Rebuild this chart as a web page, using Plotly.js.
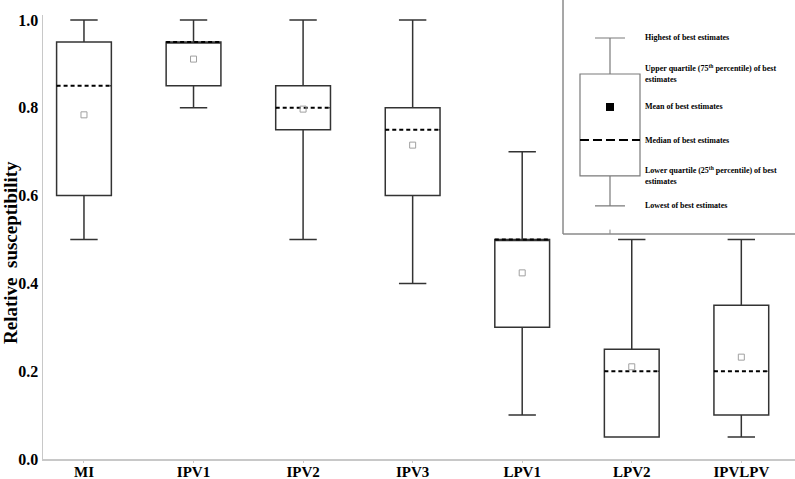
<!DOCTYPE html>
<html>
<head>
<meta charset="utf-8">
<script src="https://cdn.plot.ly/plotly-3.0.1.min.js"></script>
<style>html,body{margin:0;padding:0;background:#fff;}#chart{width:795px;height:479px;}</style>
</head>
<body>
<div id="chart"></div>
<script>
// ---- data ----
var categories = ["MI", "IPV1", "IPV2", "IPV3", "LPV1", "LPV2", "IPVLPV"];
var lowest   = [0.50, 0.80, 0.50, 0.40, 0.10, 0.05, 0.05];
var lowerQ   = [0.60, 0.85, 0.75, 0.60, 0.30, 0.05, 0.10];
var medians  = [0.85, 0.95, 0.80, 0.75, 0.50, 0.20, 0.20];
var upperQ   = [0.95, 0.95, 0.85, 0.80, 0.50, 0.25, 0.35];
var highest  = [1.00, 1.00, 1.00, 1.00, 0.70, 0.50, 0.50];
var means    = [0.784, 0.911, 0.797, 0.715, 0.424, 0.210, 0.232];
var yTicks   = [0.0, 0.2, 0.4, 0.6, 0.8, 1.0];
var yTitle   = "Relative  susceptibility";

// illustrative values for the explanatory key (upper-right inset)
var keyLowest = [0.128], keyLowerQ = [0.265], keyMedian = [0.429],
    keyMean = [0.58], keyUpperQ = [0.7306], keyHighest = [0.895];
var keyLabels = [
  "Highest of best estimates",
  "Upper quartile (75<sup>th</sup> percentile) of best<br>estimates",
  "Mean of best estimates",
  "Median of best estimates",
  "Lower quartile (25<sup>th</sup> percentile) of best<br>estimates",
  "Lowest of best estimates"
];

// ---- styles ----
var BOXW = 0.5;
var serifBold = {family: "Liberation Serif, Times New Roman, serif", color: "#000", weight: "bold"};
var xIdx = categories.map(function (c, i) { return i; });

function medianSegments(xs, ys, half, skip) {
  var X = [], Y = [];
  xs.forEach(function (x, i) {
    if (skip && skip(i)) return;
    X.push(x - half, x + half, null);
    Y.push(ys[i], ys[i], null);
  });
  return {x: X, y: Y};
}

var traces = [];
traces.push({
  type: "box", x: xIdx, q1: lowerQ, median: medians, q3: upperQ,
  lowerfence: lowest, upperfence: highest,
  width: BOXW, whiskerwidth: 0.5, boxpoints: false,
  fillcolor: "rgba(255,255,255,0)", line: {color: "#333", width: 1.5},
  hoverinfo: "skip", showlegend: false
});
var mw = medianSegments(xIdx, medians, BOXW / 2 - 0.012, function (i) {
  return medians[i] === upperQ[i] || medians[i] === lowerQ[i];
});
traces.push({type: "scatter", mode: "lines", x: mw.x, y: mw.y,
  line: {color: "#fff", width: 2.5}, hoverinfo: "skip", showlegend: false});
var md = medianSegments(xIdx, medians, BOXW / 2);
traces.push({type: "scatter", mode: "lines", x: md.x, y: md.y,
  line: {color: "#000", width: 2, dash: "4px,3px"}, hoverinfo: "skip", showlegend: false});
traces.push({type: "scatter", mode: "markers", x: xIdx, y: means,
  marker: {symbol: "square-open", size: 6, color: "#a0a0a0", line: {width: 1, color: "#a0a0a0"}},
  hoverinfo: "skip", showlegend: false});

// key inset
traces.push({
  type: "box", x: [0], q1: keyLowerQ, median: keyMedian, q3: keyUpperQ,
  lowerfence: keyLowest, upperfence: keyHighest, xaxis: "x2", yaxis: "y2",
  width: 1, whiskerwidth: 0.5, boxpoints: false,
  fillcolor: "rgba(255,255,255,0)", line: {color: "#7a7a7a", width: 1.2},
  hoverinfo: "skip", showlegend: false
});
var kw = medianSegments([0], keyMedian, 0.49);
traces.push({type: "scatter", mode: "lines", x: kw.x, y: kw.y, xaxis: "x2", yaxis: "y2",
  line: {color: "#fff", width: 2.5}, hoverinfo: "skip", showlegend: false});
var kd = medianSegments([0], keyMedian, 0.5);
traces.push({type: "scatter", mode: "lines", x: kd.x, y: kd.y, xaxis: "x2", yaxis: "y2",
  line: {color: "#000", width: 2, dash: "9px,4px"}, hoverinfo: "skip", showlegend: false});
traces.push({type: "scatter", mode: "markers", x: [0], y: keyMean, xaxis: "x2", yaxis: "y2",
  marker: {symbol: "square", size: 8, color: "#000"}, hoverinfo: "skip", showlegend: false});

var keyY = [keyHighest[0], keyUpperQ[0], keyMean[0], keyMedian[0], keyLowerQ[0], keyLowest[0]];
var annotations = keyLabels.map(function (t, i) {
  return {xref: "x2", yref: "y2", x: 0.55, y: keyY[i], text: t, showarrow: false,
    xanchor: "left", yanchor: "middle", align: "left",
    font: {family: serifBold.family, size: 8, color: "#000", weight: "bold"}};
});
annotations.push({
  xref: "paper", yref: "paper", x: 0, y: 0.464, xshift: -32, text: yTitle,
  textangle: -90, showarrow: false, xanchor: "center", yanchor: "middle",
  font: {family: serifBold.family, size: 19, color: "#000", weight: "bold"}
});

var layout = {
  width: 795, height: 479,
  margin: {l: 43, r: 0, t: 15, b: 20},
  paper_bgcolor: "#fff", plot_bgcolor: "#fff",
  showlegend: false,
  xaxis: {
    range: [-0.374, 6.49], tickvals: xIdx, ticktext: categories,
    showgrid: false, zeroline: false, showline: true, linecolor: "#c8c8c8", linewidth: 1.5,
    ticks: "outside", ticklen: 2, tickcolor: "#c8c8c8", ticklabelstandoff: -4,
    tickfont: {family: serifBold.family, size: 15, color: "#000", weight: "bold"}
  },
  yaxis: {
    range: [0, 1.0114], tickvals: yTicks, tickformat: ".1f",
    showgrid: false, zeroline: false, showline: true, linecolor: "#c8c8c8", linewidth: 1.5,
    ticks: "",
    tickfont: {family: serifBold.family, size: 16, color: "#000", weight: "bold"}
  },
  xaxis2: {domain: [0.6915, 1], range: [-0.783, 3.083], anchor: "y2", visible: false, fixedrange: true},
  yaxis2: {domain: [0.5068, 1], range: [0, 1], anchor: "x2", visible: false, fixedrange: true},
  shapes: [
    {type: "line", xref: "x2 domain", yref: "y2 domain", x0: 0, x1: 0, y0: 0, y1: 1.0685,
      line: {color: "#8a8a8a", width: 1.5}},
    {type: "line", xref: "x2 domain", yref: "y2 domain", x0: 0, x1: 1, y0: 0, y1: 0,
      line: {color: "#8a8a8a", width: 1.5}},
    {type: "line", xref: "x2", yref: "y2 domain", x0: 0, x1: 0, y0: 0, y1: 0.02,
      line: {color: "#8a8a8a", width: 1}}
  ],
  annotations: annotations
};

Plotly.newPlot("chart", traces, layout, {displayModeBar: false, staticPlot: true});
</script>
</body>
</html>
